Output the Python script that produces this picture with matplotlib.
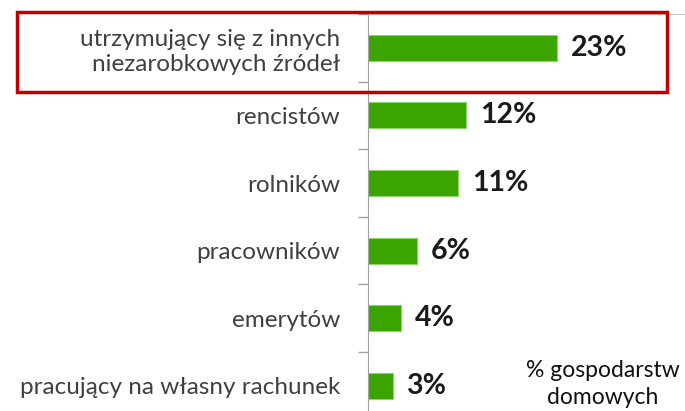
# %% importing modules
import numpy as np
import matplotlib.pyplot as plt
from matplotlib.patches import Rectangle

# %% data
categories = ['utrzymujący się z innych\nniezarobkowych źródeł', 'rencistów', 'rolników',
              'pracowników', 'emerytów', 'pracujący na własny rachunek']
shares = [23, 12, 11, 6, 4, 3]
value_labels = ['23%', '12%', '11%', '6%', '4%', '3%']

# %% figure and axes
W, H = 685, 411
fig = plt.figure(figsize=(W / 100, H / 100), dpi=100)
row_h = 67.6
ax_top = 14
ax = fig.add_axes([368 / W, (H - ax_top - 6 * row_h) / H, (W - 368) / W, 6 * row_h / H])

y = np.arange(len(categories))
ax.barh(y, shares, height=0.385, color='#3aa500', edgecolor='#8fd16a', linewidth=0.8)
ax.set_ylim(len(categories) - 0.5, -0.5)
ax.set_xlim(0, (W - 368) / 8.2)

# axis styling
for s in ['right', 'bottom']:
    ax.spines[s].set_visible(False)
ax.spines['left'].set_color('#a0a0a0')
ax.spines['top'].set_color('#c8c8c8')
ax.set_xticks([])
ax.set_yticks(y)
ax.set_yticklabels(categories, fontsize=17.5, fontfamily='Lato', color='#404040',
                   linespacing=1.25)
ax.tick_params(axis='y', which='major', length=0, pad=20)
ax.set_yticks(np.arange(-0.5, len(categories)), minor=True)
ax.tick_params(axis='y', which='minor', length=7, color='#a0a0a0', width=1)

# value labels
for yi, v, lab in zip(y, shares, value_labels):
    ax.annotate(lab, (v, yi), xytext=(10, 0), textcoords='offset points',
                va='center', ha='left', fontsize=20.5, fontweight='bold',
                fontfamily='Lato', color='#1a1a1a')

# highlighted first row
fig.patches.append(Rectangle((17 / W, 1 - 92 / H), (667 - 17) / W, 80 / H,
                             transform=fig.transFigure, fill=False,
                             edgecolor='#c00000', linewidth=2.5))

fig.text(603 / W, 1 - 384 / H, '% gospodarstw\ndomowych', ha='center', va='center',
         fontsize=16.5, fontfamily='Lato', color='#111111', linespacing=1.4)

plt.savefig('out.png', dpi=100)
